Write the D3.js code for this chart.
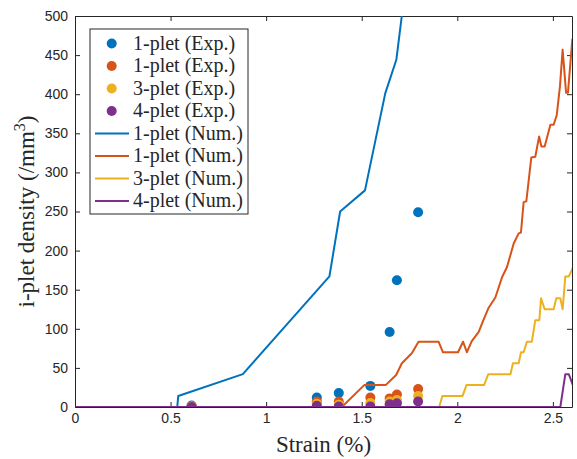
<!DOCTYPE html>
<html>
<head>
<meta charset="utf-8">
<script src="https://cdn.jsdelivr.net/npm/d3@7"></script>
<style>
  html, body { margin: 0; padding: 0; background: #fff; }
  svg { display: block; }
</style>
</head>
<body>
<svg id="chart" width="577" height="459"></svg>
<script>
// Experimental measurements: strain (%) and i-plet density (/mm^3)
const strainExp     = [0.61, 1.265, 1.38, 1.545, 1.646, 1.684, 1.795];
const onePletExpA   = [2, 12, 18, 27, 96, 162, 249];
const onePletExpB   = [1, 7, 7, 12, 11, 16, 23];
const threePletExp  = [0.5, 4, 3, 5, 7, 9, 14];
const fourPletExp   = [0, 1.7, 0.5, 0.5, 3.4, 4.7, 7];

// Numerical predictions
const onePletNumAStrain  = [0, 0.535, 0.54, 0.878, 1.331, 1.387, 1.517, 1.623, 1.681, 1.73];
const onePletNumADensity = [0, 0, 14, 42, 167, 250, 277, 401, 444, 540];

const onePletNumBStrain  = [0, 1.396, 1.513, 1.625, 1.68, 1.71, 1.763, 1.797, 1.902, 1.925, 2.004, 2.03, 2.05, 2.075,
                            2.112, 2.138, 2.164, 2.199, 2.234, 2.26, 2.295, 2.321, 2.333, 2.347, 2.361, 2.387, 2.408,
                            2.428, 2.44, 2.457, 2.487, 2.504, 2.52, 2.537, 2.551, 2.569, 2.579, 2.602];
const onePletNumBDensity = [0, 0, 28, 28, 41, 56, 69, 83.5, 83.5, 70, 70, 83.5, 70, 84,
                            96, 112, 127, 140, 166, 179, 209, 222, 223, 262, 263, 319, 320,
                            346, 333, 333, 361, 361, 373, 410, 457, 402, 402, 471];

const threePletNumStrain  = [0, 1.905, 1.922, 2.027, 2.048, 2.14, 2.162, 2.278, 2.291, 2.321, 2.333, 2.347, 2.364,
                             2.39, 2.408, 2.429, 2.438, 2.457, 2.504, 2.518, 2.539, 2.551, 2.565, 2.583, 2.609];
const threePletNumDensity = [0, 0, 14, 14, 28, 28, 42, 42, 56, 56, 70, 70, 83.5,
                             83.5, 111, 111, 139, 125, 125, 139, 139, 125, 167, 167, 180];

const fourPletNumStrain  = [0, 2.539, 2.565, 2.583, 2.605];
const fourPletNumDensity = [0, 0, 42, 42, 28];

const xTicks = [0, 0.5, 1, 1.5, 2, 2.5];
const yTicks = [0, 50, 100, 150, 200, 250, 300, 350, 400, 450, 500];

const colors = { blue: "#0072BD", orange: "#D95319", yellow: "#EDB120", purple: "#7E2F8E" };
const serifFont = "Liberation Serif";
const sansFont = "Liberation Sans";
const inkColor = "#262626";

const expSeries = [
  { name: "1-plet (Exp.)", values: onePletExpA,  color: colors.blue },
  { name: "1-plet (Exp.)", values: onePletExpB,  color: colors.orange },
  { name: "3-plet (Exp.)", values: threePletExp, color: colors.yellow },
  { name: "4-plet (Exp.)", values: fourPletExp,  color: colors.purple }
];
const numSeries = [
  { name: "1-plet (Num.)", x: onePletNumAStrain,  y: onePletNumADensity,  color: colors.blue },
  { name: "1-plet (Num.)", x: onePletNumBStrain,  y: onePletNumBDensity,  color: colors.orange },
  { name: "3-plet (Num.)", x: threePletNumStrain, y: threePletNumDensity, color: colors.yellow },
  { name: "4-plet (Num.)", x: fourPletNumStrain,  y: fourPletNumDensity,  color: colors.purple }
];

const margin = { left: 75, top: 16, right: 5, bottom: 52 };
const W = 577, H = 459;
const pw = W - margin.left - margin.right;
const ph = H - margin.top - margin.bottom;

const svg = d3.select("#chart");
const g = svg.append("g").attr("transform", `translate(${margin.left},${margin.top})`);

const x = d3.scaleLinear().domain([0, 2.6]).range([0, pw]);
const y = d3.scaleLinear().domain([0, 500]).range([ph, 0]);

svg.append("defs").append("clipPath").attr("id", "plotClip")
  .append("rect").attr("x", 0).attr("y", 0).attr("width", pw).attr("height", ph);

// Axes with inward ticks on all four sides
function styleAxis(sel, hideText) {
  sel.attr("font-family", sansFont).attr("font-size", 14);
  sel.select(".domain").attr("stroke", inkColor).attr("stroke-width", 1);
  sel.selectAll(".tick line").attr("stroke", inkColor);
  sel.selectAll(".tick text").attr("fill", inkColor);
  if (hideText) sel.selectAll(".tick text").remove();
}
g.append("g").attr("transform", `translate(0,${ph})`)
  .call(d3.axisBottom(x).tickValues(xTicks).tickSizeInner(-5).tickSizeOuter(0).tickPadding(6).tickFormat(d3.format("")))
  .call(s => styleAxis(s, false));
g.append("g")
  .call(d3.axisTop(x).tickValues(xTicks).tickSizeInner(-5).tickSizeOuter(0))
  .call(s => styleAxis(s, true));
g.append("g")
  .call(d3.axisLeft(y).tickValues(yTicks).tickSizeInner(-5).tickSizeOuter(0).tickPadding(7))
  .call(s => styleAxis(s, false));
g.append("g").attr("transform", `translate(${pw},0)`)
  .call(d3.axisRight(y).tickValues(yTicks).tickSizeInner(-5).tickSizeOuter(0))
  .call(s => styleAxis(s, true));

const plot = g.append("g").attr("clip-path", "url(#plotClip)");

// Experimental points
expSeries.forEach(s => {
  plot.append("g").selectAll("circle")
    .data(strainExp.map((sx, i) => [sx, s.values[i]]))
    .join("circle")
    .attr("cx", d => x(d[0]))
    .attr("cy", d => y(d[1]))
    .attr("r", 5)
    .attr("fill", s.color);
});

// Numerical curves
const line = d3.line().x(d => x(d[0])).y(d => y(d[1]));
numSeries.forEach(s => {
  plot.append("path")
    .datum(s.x.map((sx, i) => [sx, s.y[i]]))
    .attr("d", line)
    .attr("fill", "none")
    .attr("stroke", s.color)
    .attr("stroke-width", 2)
    .attr("stroke-linejoin", "round");
});

// Axis titles
svg.append("text").attr("font-family", serifFont).attr("fill", inkColor)
  .attr("x", margin.left + x(1.3)).attr("y", 452)
  .attr("text-anchor", "middle").attr("font-size", 23)
  .text("Strain (%)");

const yl = svg.append("text").attr("font-family", serifFont).attr("fill", inkColor)
  .attr("transform", `translate(34,${margin.top + ph / 2}) rotate(-90)`)
  .attr("text-anchor", "middle").attr("font-size", 23);
yl.append("tspan").text("i-plet density (/mm");
yl.append("tspan").attr("dy", -9).attr("font-size", 16).text("3");
yl.append("tspan").attr("dy", 9).text(")");

// Legend
const legend = svg.append("g").attr("transform", "translate(90,29)");
legend.append("rect").attr("width", 158).attr("height", 185)
  .attr("fill", "#fff").attr("stroke", inkColor).attr("stroke-width", 1);
const rowH = 22.5;
expSeries.forEach((s, i) => {
  const cy = 14.5 + i * rowH;
  legend.append("circle").attr("cx", 21.7).attr("cy", cy).attr("r", 5).attr("fill", s.color);
  legend.append("text").attr("font-family", serifFont).attr("fill", inkColor)
    .attr("x", 43).attr("y", cy + 6).attr("font-size", 20).text(s.name);
});
numSeries.forEach((s, i) => {
  const cy = 14.5 + (i + 4) * rowH;
  legend.append("line").attr("x1", 5).attr("x2", 39).attr("y1", cy).attr("y2", cy)
    .attr("stroke", s.color).attr("stroke-width", 2);
  legend.append("text").attr("font-family", serifFont).attr("fill", inkColor)
    .attr("x", 43).attr("y", cy + 6).attr("font-size", 20).text(s.name);
});
</script>
</body>
</html>
